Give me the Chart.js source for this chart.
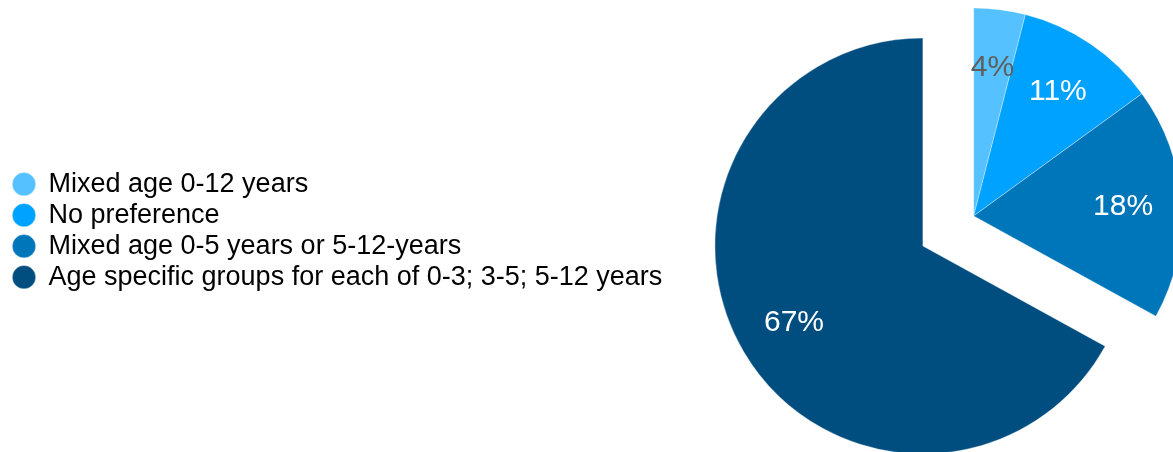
<!DOCTYPE html>
<html lang="en">
<head>
    <title></title>
    <script src="https://cdn.jsdelivr.net/npm/chart.js"></script>
    <style>
        html, body {
            margin: 0;
            padding: 0;
            background: #fff;
            overflow: hidden;
        }

        /* wider than the window so the pie can run off the right edge */
        #wrap {
            width: 1275px;
            height: 452px;
        }
    </style>
</head>
<body>
<div id="wrap">
    <canvas id="myChart"></canvas>
</div>
<script>
    const groupLabels = [
        'Mixed age 0-12 years',
        'No preference',
        'Mixed age 0-5 years or 5-12-years',
        'Age specific groups for each of 0-3; 3-5; 5-12 years'
    ];
    const shares = [4, 11, 18, 67];

    const sliceColors = ['#56c1ff', '#00a2ff', '#0076ba', '#004d80'];
    const valueColors = ['#5e5e5e', '#ffffff', '#ffffff', '#ffffff'];
    // how far each slice is pulled out from the centre, px
    const pullOut = [0, 0, 0, 59];

    const FONT = '"Liberation Sans", Arial, Helvetica, sans-serif';

    // draws the slices moved out along their middle angle (no radius growth like the built-in offset)
    // and writes the percentage inside each slice
    const explodedPie = {
        id: 'explodedPie',
        beforeDatasetDraw(chart, args) {
            const ctx = chart.ctx;
            args.meta.data.forEach((arc, i) => {
                const mid = (arc.startAngle + arc.endAngle) / 2;
                ctx.save();
                ctx.translate(Math.cos(mid) * pullOut[i], Math.sin(mid) * pullOut[i]);
                arc.draw(ctx);
                ctx.restore();
            });
            return false;
        },
        afterDatasetsDraw(chart) {
            const ctx = chart.ctx;
            const meta = chart.getDatasetMeta(0);
            ctx.save();
            ctx.font = '30px ' + FONT;
            ctx.textAlign = 'center';
            ctx.textBaseline = 'middle';
            meta.data.forEach((arc, i) => {
                const mid = (arc.startAngle + arc.endAngle) / 2;
                const r = arc.outerRadius * 0.72 + pullOut[i];
                ctx.fillStyle = valueColors[i];
                ctx.fillText(shares[i] + '%', arc.x + Math.cos(mid) * r, arc.y + Math.sin(mid) * r);
            });
            ctx.restore();
        }
    };

    const ctx = document.getElementById('myChart').getContext('2d');
    const chart = new Chart(ctx, {
        type: 'pie',
        data: {
            labels: groupLabels,
            datasets: [
                {
                    data: shares,
                    backgroundColor: sliceColors,
                    borderColor: 'rgba(255, 255, 255, 0.35)',
                    borderWidth: 1,
                    radius: 208,
                },
            ],
        },
        plugins: [explodedPie],
        options: {
            responsive: true,
            maintainAspectRatio: false,
            animation: false,
            layout: {
                padding: {left: 9, bottom: 20}
            },
            plugins: {
                tooltip: {enabled: false},
                legend: {
                    position: 'left',
                    maxWidth: 700,
                    // empty title only pushes the items down a little
                    title: {
                        display: true,
                        text: '',
                        font: {size: 12},
                        padding: {top: 15, bottom: 0}
                    },
                    labels: {
                        usePointStyle: true,
                        pointStyle: 'circle',
                        boxWidth: 22,
                        boxHeight: 16.5,
                        padding: 4,
                        color: '#000000',
                        font: {family: FONT, size: 27}
                    }
                }
            }
        }
    });
</script>
</body>
</html>
